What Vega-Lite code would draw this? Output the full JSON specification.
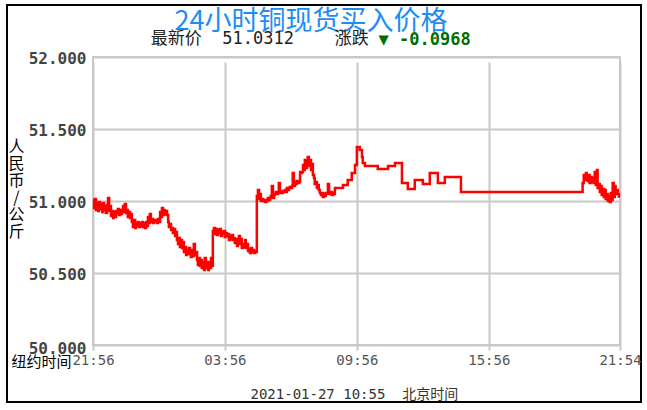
{
  "$schema": "https://vega.github.io/schema/vega-lite/v6.json",
  "autosize": "none",
  "width": 634,
  "height": 397,
  "padding": {"left": 7, "top": 5, "right": 6, "bottom": 8},
  "background": "white",
  "config": {"view": {"stroke": "black", "strokeWidth": 2}},
  "title": {
    "text": "24小时铜现货买入价格",
    "subtitle": "最新价\u00a0\u00a051.0312\u00a0\u00a0\u00a0\u00a0涨跌\u00a0\u00a0\u00a0\u00a0\u00a0\u00a0\u00a0\u00a0\u00a0\u00a0\u200b",
    "anchor": "middle",
    "frame": "group",
    "orient": "top",
    "offset": -43,
    "dx": -13,
    "font": "Noto Sans CJK SC",
    "fontSize": 27,
    "fontWeight": "normal",
    "color": "#1e8cf5",
    "subtitleFont": "DejaVu Sans Mono, Noto Sans CJK SC",
    "subtitleFontSize": 17,
    "subtitleColor": "#222222",
    "subtitlePadding": -5
  },
  "resolve": {"scale": {"x": "independent", "y": "independent"}, "axis": {"x": "independent", "y": "independent"}},
  "layer": [
    {
      "data": {"values": [{"t0": 0, "t1": 1438, "v0": 50, "v1": 52}]},
      "mark": {"type": "rect", "fill": null, "stroke": "#c8c8c8", "strokeWidth": 2},
      "encoding": {
        "x": {"field": "t0", "type": "quantitative",
          "scale": {"domain": [0, 1438], "range": [86, 613], "nice": false, "zero": false},
          "axis": {"orient": "top", "offset": 0, "domain": false, "ticks": false, "labels": false, "grid": false,
            "title": "▼ -0.0968", "titleX": 371, "titleY": 34, "titleAlign": "left", "titleBaseline": "middle",
            "titleFont": "DejaVu Sans Mono", "titleFontSize": 17, "titleFontWeight": "bold", "titleColor": "#006e00"}},
        "x2": {"field": "t1"},
        "y": {"field": "v0", "type": "quantitative",
          "scale": {"domain": [50, 52], "range": [340, 52], "nice": false, "zero": false},
          "axis": {"orient": "right", "offset": 0, "domain": false, "ticks": false, "labels": false, "grid": false,
            "title": "2021-01-27 10:55\u00a0\u00a0北京时间", "titleAngle": 0, "titleX": -391, "titleY": 389,
            "titleAlign": "left", "titleBaseline": "middle",
            "titleFont": "DejaVu Sans Mono, Noto Sans CJK SC", "titleFontSize": 14, "titleFontWeight": "normal", "titleColor": "#333333"}},
        "y2": {"field": "v1"}
      }
    },
    {
      "data": {"values": [
        {"t":0,"v":51.007},{"t":3,"v":50.951},{"t":5,"v":51.014},{"t":8,"v":50.938},{"t":11,"v":50.986},{"t":14,"v":50.931},{"t":16,"v":50.993},{"t":19,"v":50.944},{"t":22,"v":50.979},{"t":25,"v":50.924},
        {"t":27,"v":50.986},{"t":30,"v":50.938},{"t":33,"v":50.965},{"t":35,"v":50.917},{"t":38,"v":50.972},{"t":41,"v":51.021},{"t":44,"v":50.931},{"t":46,"v":50.965},{"t":49,"v":50.896},{"t":52,"v":50.931},
        {"t":55,"v":50.882},{"t":57,"v":50.924},{"t":60,"v":50.889},{"t":63,"v":50.931},{"t":65,"v":50.917},{"t":68,"v":50.944},{"t":71,"v":50.903},{"t":74,"v":50.938},{"t":76,"v":50.910},{"t":79,"v":50.931},
        {"t":82,"v":50.965},{"t":85,"v":50.924},{"t":87,"v":50.979},{"t":90,"v":50.917},{"t":93,"v":50.938},{"t":95,"v":50.889},{"t":98,"v":50.924},{"t":101,"v":50.882},{"t":104,"v":50.910},{"t":106,"v":50.854},
        {"t":109,"v":50.819},{"t":112,"v":50.868},{"t":115,"v":50.813},{"t":117,"v":50.847},{"t":120,"v":50.826},{"t":123,"v":50.854},{"t":125,"v":50.819},{"t":128,"v":50.847},{"t":131,"v":50.826},{"t":134,"v":50.854},
        {"t":136,"v":50.819},{"t":139,"v":50.847},{"t":142,"v":50.813},{"t":145,"v":50.854},{"t":147,"v":50.826},{"t":150,"v":50.889},{"t":153,"v":50.847},{"t":155,"v":50.910},{"t":158,"v":50.854},{"t":161,"v":50.875},
        {"t":164,"v":50.847},{"t":166,"v":50.868},{"t":169,"v":50.854},{"t":172,"v":50.868},{"t":175,"v":50.847},{"t":177,"v":50.875},{"t":180,"v":50.854},{"t":183,"v":50.924},{"t":185,"v":50.889},{"t":188,"v":50.951},
        {"t":191,"v":50.903},{"t":194,"v":50.938},{"t":196,"v":50.910},{"t":199,"v":50.931},{"t":202,"v":50.903},{"t":205,"v":50.854},{"t":207,"v":50.819},{"t":210,"v":50.840},{"t":213,"v":50.799},{"t":215,"v":50.813},
        {"t":218,"v":50.778},{"t":221,"v":50.806},{"t":224,"v":50.757},{"t":226,"v":50.785},{"t":229,"v":50.729},{"t":232,"v":50.701},{"t":235,"v":50.743},{"t":237,"v":50.681},{"t":240,"v":50.729},{"t":243,"v":50.674},
        {"t":245,"v":50.715},{"t":248,"v":50.646},{"t":251,"v":50.681},{"t":254,"v":50.625},{"t":256,"v":50.660},{"t":259,"v":50.632},{"t":262,"v":50.674},{"t":265,"v":50.646},{"t":267,"v":50.611},{"t":270,"v":50.660},
        {"t":273,"v":50.618},{"t":275,"v":50.701},{"t":278,"v":50.625},{"t":281,"v":50.646},{"t":284,"v":50.590},{"t":286,"v":50.556},{"t":289,"v":50.604},{"t":292,"v":50.549},{"t":295,"v":50.590},{"t":297,"v":50.535},
        {"t":300,"v":50.576},{"t":303,"v":50.521},{"t":305,"v":50.604},{"t":308,"v":50.535},{"t":311,"v":50.576},{"t":314,"v":50.521},{"t":316,"v":50.576},{"t":319,"v":50.535},{"t":322,"v":50.604},{"t":325,"v":50.549},
        {"t":327,"v":50.792},{"t":330,"v":50.813},{"t":333,"v":50.771},{"t":335,"v":50.806},{"t":338,"v":50.764},{"t":341,"v":50.799},{"t":344,"v":50.778},{"t":346,"v":50.806},{"t":349,"v":50.757},{"t":352,"v":50.785},
        {"t":355,"v":50.771},{"t":357,"v":50.792},{"t":360,"v":50.750},{"t":363,"v":50.778},{"t":365,"v":50.757},{"t":368,"v":50.771},{"t":371,"v":50.729},{"t":374,"v":50.757},{"t":376,"v":50.736},{"t":379,"v":50.764},
        {"t":382,"v":50.729},{"t":385,"v":50.743},{"t":387,"v":50.708},{"t":390,"v":50.736},{"t":393,"v":50.688},{"t":395,"v":50.722},{"t":398,"v":50.757},{"t":401,"v":50.701},{"t":404,"v":50.736},{"t":406,"v":50.674},
        {"t":409,"v":50.701},{"t":412,"v":50.681},{"t":415,"v":50.729},{"t":417,"v":50.674},{"t":420,"v":50.701},{"t":423,"v":50.653},{"t":425,"v":50.667},{"t":428,"v":50.639},{"t":431,"v":50.674},{"t":434,"v":50.646},
        {"t":436,"v":50.660},{"t":439,"v":50.639},{"t":442,"v":50.653},{"t":445,"v":50.646},{"t":447,"v":51.035},{"t":450,"v":51.076},{"t":453,"v":51.014},{"t":455,"v":51.049},{"t":458,"v":51.000},{"t":461,"v":51.014},
        {"t":464,"v":51.000},{"t":466,"v":51.007},{"t":469,"v":50.993},{"t":472,"v":51.007},{"t":475,"v":51.000},{"t":477,"v":51.021},{"t":480,"v":51.007},{"t":483,"v":51.021},{"t":485,"v":51.035},{"t":488,"v":51.104},
        {"t":491,"v":51.021},{"t":494,"v":51.042},{"t":496,"v":51.049},{"t":499,"v":51.063},{"t":502,"v":51.049},{"t":505,"v":51.056},{"t":507,"v":51.125},{"t":510,"v":51.056},{"t":513,"v":51.063},{"t":515,"v":51.056},
        {"t":518,"v":51.069},{"t":521,"v":51.063},{"t":524,"v":51.076},{"t":526,"v":51.063},{"t":529,"v":51.090},{"t":532,"v":51.076},{"t":535,"v":51.090},{"t":537,"v":51.097},{"t":540,"v":51.090},{"t":543,"v":51.104},
        {"t":545,"v":51.194},{"t":548,"v":51.104},{"t":551,"v":51.132},{"t":554,"v":51.118},{"t":556,"v":51.139},{"t":559,"v":51.125},{"t":562,"v":51.132},{"t":565,"v":51.201},{"t":567,"v":51.194},{"t":570,"v":51.201},
        {"t":573,"v":51.250},{"t":575,"v":51.215},{"t":578,"v":51.285},{"t":581,"v":51.229},{"t":584,"v":51.271},{"t":586,"v":51.306},{"t":589,"v":51.243},{"t":592,"v":51.285},{"t":595,"v":51.215},{"t":597,"v":51.257},
        {"t":600,"v":51.181},{"t":603,"v":51.160},{"t":605,"v":51.118},{"t":608,"v":51.132},{"t":611,"v":51.090},{"t":614,"v":51.111},{"t":616,"v":51.076},{"t":619,"v":51.056},{"t":622,"v":51.042},{"t":625,"v":51.056},
        {"t":627,"v":51.028},{"t":630,"v":51.049},{"t":633,"v":51.035},{"t":635,"v":51.056},{"t":638,"v":51.049},{"t":641,"v":51.118},{"t":644,"v":51.056},{"t":646,"v":51.049},{"t":649,"v":51.063},{"t":652,"v":51.042},
        {"t":655,"v":51.056},{"t":657,"v":51.049},{"t":660,"v":51.090},{"t":682,"v":51.111},{"t":695,"v":51.146},{"t":706,"v":51.194},{"t":715,"v":51.250},{"t":720,"v":51.375},{"t":728,"v":51.354},{"t":734,"v":51.306},
        {"t":736,"v":51.264},{"t":742,"v":51.243},{"t":777,"v":51.222},{"t":805,"v":51.243},{"t":824,"v":51.264},{"t":843,"v":51.125},{"t":859,"v":51.083},{"t":878,"v":51.146},{"t":900,"v":51.118},{"t":919,"v":51.194},
        {"t":941,"v":51.125},{"t":960,"v":51.167},{"t":1004,"v":51.063},{"t":1336,"v":51.125},{"t":1339,"v":51.181},{"t":1342,"v":51.146},{"t":1345,"v":51.194},{"t":1347,"v":51.160},{"t":1350,"v":51.139},{"t":1353,"v":51.181},
        {"t":1355,"v":51.125},{"t":1358,"v":51.167},{"t":1361,"v":51.132},{"t":1364,"v":51.160},{"t":1366,"v":51.125},{"t":1369,"v":51.201},{"t":1372,"v":51.111},{"t":1375,"v":51.215},{"t":1377,"v":51.090},{"t":1380,"v":51.118},
        {"t":1383,"v":51.063},{"t":1385,"v":51.104},{"t":1388,"v":51.042},{"t":1391,"v":51.083},{"t":1394,"v":51.028},{"t":1396,"v":51.076},{"t":1399,"v":51.014},{"t":1402,"v":51.049},{"t":1405,"v":51.000},{"t":1407,"v":51.035},
        {"t":1410,"v":50.993},{"t":1413,"v":51.056},{"t":1415,"v":51.007},{"t":1418,"v":51.125},{"t":1421,"v":51.028},{"t":1424,"v":51.104},{"t":1426,"v":51.049},{"t":1429,"v":51.076},{"t":1432,"v":51.049},{"t":1435,"v":51.031},
        {"t":1438,"v":51.031}
      ]},
      "mark": {"type": "line", "color": "#ff0000", "strokeWidth": 2.5, "interpolate": "step-after"},
      "encoding": {
        "x": {"field": "t", "type": "quantitative",
          "scale": {"domain": [0, 1438], "range": [86, 613], "nice": false, "zero": false},
          "axis": {"orient": "bottom", "offset": -57, "values": [0, 360, 720, 1080, 1438],
            "labelExpr": "datum.value == 0 ? '21:56' : datum.value == 360 ? '03:56' : datum.value == 720 ? '09:56' : datum.value == 1080 ? '15:56' : '21:54'",
            "grid": true, "gridColor": "#c8c8c8", "gridWidth": 2, "domain": false, "ticks": false,
            "labelFont": "DejaVu Sans Mono", "labelFontSize": 14, "labelColor": "#555555", "labelPadding": 8,
            "labelFlush": false, "labelOverlap": false, "labelBound": false,
            "title": "纽约时间", "titleX": 64, "titleY": 16, "titleAlign": "right", "titleBaseline": "middle",
            "titleFont": "Noto Sans CJK SC", "titleFontSize": 15, "titleFontWeight": "normal", "titleColor": "#000000"}},
        "y": {"field": "v", "type": "quantitative",
          "scale": {"domain": [50, 52], "range": [340, 52], "nice": false, "zero": false},
          "axis": {"orient": "left", "offset": -86, "values": [50, 50.5, 51, 51.5, 52], "format": ".3f",
            "grid": true, "gridColor": "#c8c8c8", "gridWidth": 2, "domain": false, "ticks": false,
            "labelFont": "DejaVu Sans Mono", "labelFontSize": 16, "labelFontWeight": "bold", "labelColor": "#444444", "labelPadding": 7,
            "labelOffset": {"condition": {"test": "datum.value == 50", "value": 3}, "value": 1},
            "labelOverlap": false, "labelFlush": false,
            "title": ["人", "民", "币", "/", "公", "斤"], "titleAngle": 0, "titleX": -77, "titleY": 133,
            "titleAlign": "center", "titleBaseline": "top", "titleLineHeight": 17,
            "titleFont": "Noto Sans CJK SC", "titleFontSize": 16, "titleFontWeight": "normal", "titleColor": "#000000"}}
      }
    }
  ]
}
